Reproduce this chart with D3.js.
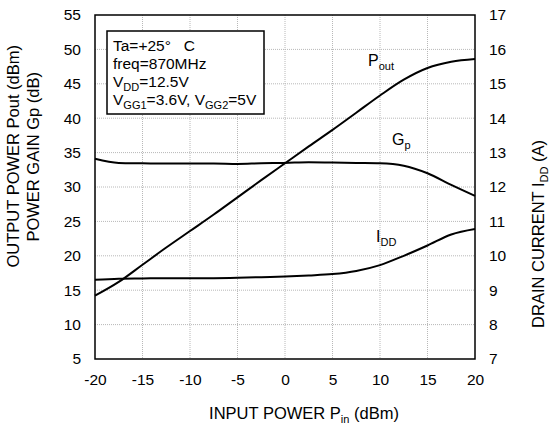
<!DOCTYPE html>
<html>
<head>
<meta charset="utf-8">
<script src="https://cdn.jsdelivr.net/npm/d3@7"></script>
<style>
  body { margin: 0; background: #fff; }
  text { font-family: Arial, "Liberation Sans", sans-serif; fill: #000; }
</style>
</head>
<body>
<div id="chart"></div>
<script>
const margin = { top: 15, right: 74, bottom: 66, left: 95 };

// input power (dBm)
const pin = [-20, -17.5, -15, -12.5, -10, -7.5, -5, -2.5, 0, 2.5, 5, 7.5, 10, 12.5, 15, 17.5, 20];
// output power (dBm)
const pout = [14.2, 16.2, 18.7, 21.2, 23.6, 26.0, 28.5, 31.0, 33.45, 35.9, 38.3, 40.8, 43.3, 45.6, 47.3, 48.2, 48.6];
// power gain (dB)
const gp = [34.1, 33.5, 33.45, 33.4, 33.4, 33.4, 33.35, 33.45, 33.5, 33.6, 33.55, 33.5, 33.45, 33.1, 32.0, 30.3, 28.7];
// drain current (A)
const idd = [9.30, 9.33, 9.34, 9.35, 9.35, 9.35, 9.36, 9.38, 9.40, 9.43, 9.47, 9.56, 9.73, 10.0, 10.3, 10.62, 10.78];

const xTicks = [-20, -15, -10, -5, 0, 5, 10, 15, 20];
const yLeftTicks = [5, 10, 15, 20, 25, 30, 35, 40, 45, 50, 55];
const yRightTicks = [7, 8, 9, 10, 11, 12, 13, 14, 15, 16, 17];

const width = 549 - margin.left - margin.right;
const height = 425 - margin.top - margin.bottom;

const svg = d3
  .select("#chart")
  .append("svg")
  .attr("width", 549)
  .attr("height", 425);

const g = svg.append("g").attr("transform", `translate(${margin.left},${margin.top})`);

const x = d3.scaleLinear().domain([-20, 20]).range([0, width]);
const yL = d3.scaleLinear().domain([5, 55]).range([height, 0]);
const yR = d3.scaleLinear().domain([7, 17]).range([height, 0]);

// dotted grid
g.append("g")
  .selectAll("line")
  .data(xTicks.slice(1, -1))
  .join("line")
  .attr("x1", (d) => x(d))
  .attr("x2", (d) => x(d))
  .attr("y1", 0)
  .attr("y2", height)
  .attr("stroke", "#b8b8b8")
  .attr("stroke-dasharray", "1,1");

g.append("g")
  .selectAll("line")
  .data(yLeftTicks.slice(1, -1))
  .join("line")
  .attr("x1", 0)
  .attr("x2", width)
  .attr("y1", (d) => yL(d))
  .attr("y2", (d) => yL(d))
  .attr("stroke", "#b8b8b8")
  .attr("stroke-dasharray", "1,1");

// axes (labels only, no tick marks), plain hyphen for negatives
const fs = "15.5px";
const fmt = (d) => String(d);
const xAxis = g
  .append("g")
  .attr("transform", `translate(0,${height})`)
  .call(d3.axisBottom(x).tickValues(xTicks).tickFormat(fmt).tickSize(0).tickPadding(15));
const lAxis = g.append("g").call(d3.axisLeft(yL).tickValues(yLeftTicks).tickFormat(fmt).tickSize(0).tickPadding(14));
const rAxis = g
  .append("g")
  .attr("transform", `translate(${width},0)`)
  .call(d3.axisRight(yR).tickValues(yRightTicks).tickFormat(fmt).tickSize(0).tickPadding(14));
[xAxis, lAxis, rAxis].forEach((a) => {
  a.select(".domain").remove();
  a.selectAll("text").style("font-size", fs);
  a.attr("font-family", null).attr("font-size", null);
});

// frame
g.append("rect")
  .attr("width", width)
  .attr("height", height)
  .attr("fill", "none")
  .attr("stroke", "#000")
  .attr("stroke-width", 1.5);

// curves
const lineL = d3.line().x((d, i) => x(pin[i])).y((d) => yL(d)).curve(d3.curveMonotoneX);
const lineR = d3.line().x((d, i) => x(pin[i])).y((d) => yR(d)).curve(d3.curveMonotoneX);

[lineL(pout), lineL(gp), lineR(idd)].forEach((p) => {
  g.append("path").attr("d", p).attr("fill", "none").attr("stroke", "#000").attr("stroke-width", 2);
});

// text with subscript helper
function label(parent, xp, yp, parts, size) {
  const t = parent.append("text").attr("x", xp).attr("y", yp).style("font-size", size);
  let shift = 0;
  parts.forEach(([s, sub]) => {
    const target = sub ? 4 : 0;
    t.append("tspan")
      .attr("dy", target - shift)
      .style("font-size", sub ? "11px" : null)
      .text(s);
    shift = target;
  });
  return t;
}

// curve labels
label(svg, 368, 66, [["P"], ["out", 1]], "16px");
label(svg, 392, 145, [["G"], ["p", 1]], "16px");
label(svg, 376, 242, [["I"], ["DD", 1]], "16px");

// condition box
svg.append("rect")
  .attr("x", 107)
  .attr("y", 31)
  .attr("width", 157)
  .attr("height", 83)
  .attr("fill", "#fff")
  .attr("stroke", "#000")
  .attr("stroke-width", 1.5);
label(svg, 113, 51, [["Ta=+25°\u00a0\u00a0 C"]], fs);
label(svg, 113, 69, [["freq=870MHz"]], fs);
label(svg, 113, 87, [["V"], ["DD", 1], ["=12.5V"]], fs);
label(svg, 113, 105, [["V"], ["GG1", 1], ["=3.6V, V"], ["GG2", 1], ["=5V"]], fs);

// axis titles
label(svg, 304, 419, [["INPUT POWER P"], ["in", 1], [" (dBm)"]], "16.5px").attr("text-anchor", "middle");

label(svg, 0, 0, [["OUTPUT POWER Pout (dBm)"]], "16.5px")
  .attr("text-anchor", "end")
  .attr("transform", "translate(19,45) rotate(-90)");
label(svg, 0, 0, [["POWER GAIN Gp (dB)"]], "16.5px")
  .attr("text-anchor", "end")
  .attr("transform", "translate(39,72) rotate(-90)");
label(svg, 0, 0, [["DRAIN CURRENT I"], ["DD", 1], [" (A)"]], "16.5px")
  .attr("text-anchor", "end")
  .attr("transform", "translate(544,140) rotate(-90)");
</script>
</body>
</html>
